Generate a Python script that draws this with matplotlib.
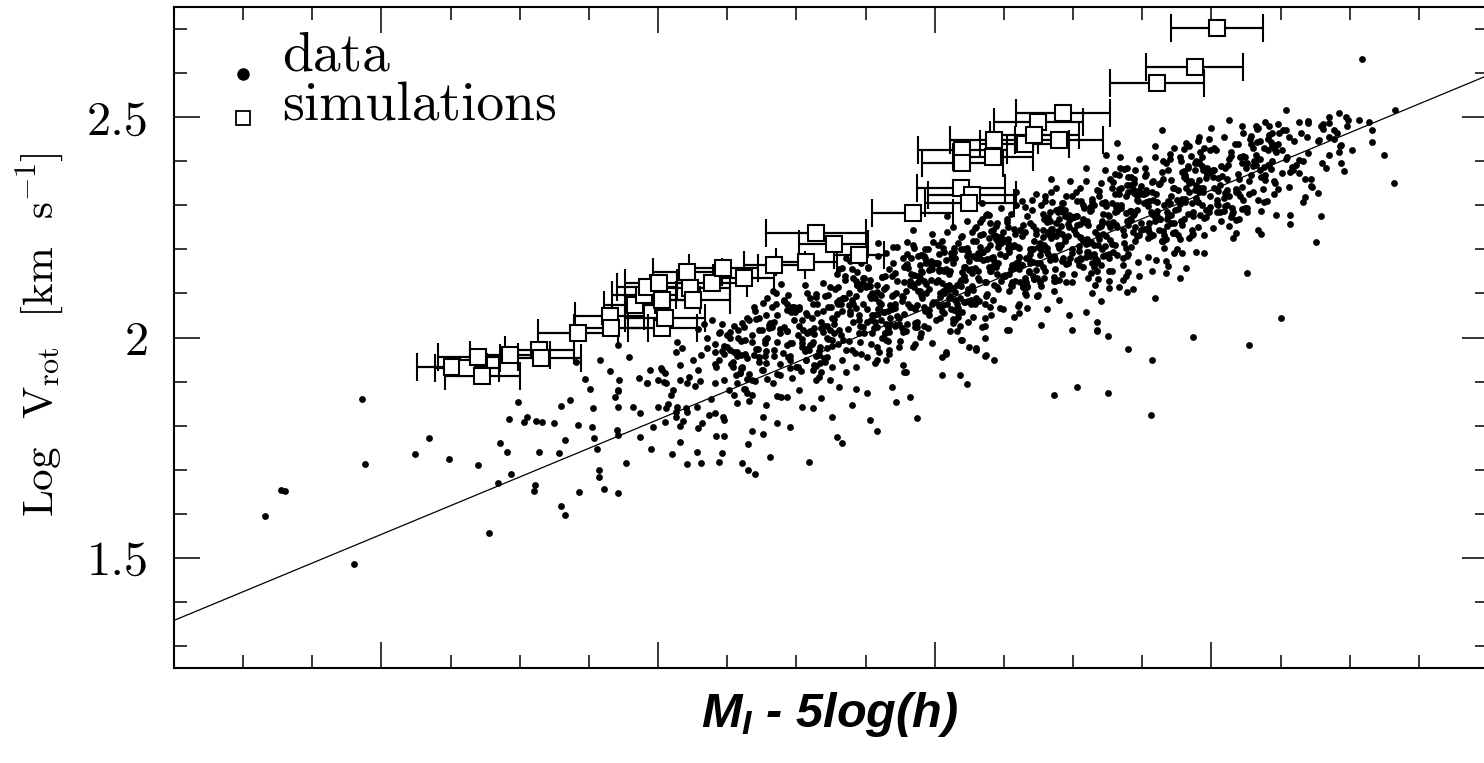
import numpy as np
import matplotlib
matplotlib.use('Agg')
import matplotlib.pyplot as plt
from matplotlib import font_manager
from matplotlib.ticker import MultipleLocator, NullFormatter

names = {f.name for f in font_manager.fontManager.ttflist}
xfont = 'Liberation Sans Narrow' if 'Liberation Sans Narrow' in names else 'Liberation Sans'

plt.rcParams['mathtext.fontset'] = 'custom'
plt.rcParams['mathtext.rm'] = 'cmr10'
plt.rcParams['mathtext.it'] = xfont + ':italic:bold'

# fitted relation, end points
line_mag = [-16.5, -26.0]
line_logv = [1.358, 2.595]

# simulations: magnitude, log Vrot, magnitude error
sim_mag = [-18.51, -18.62, -18.70, -18.73, -18.93, -19.14, -19.15, -19.42, -19.65, -19.66,
           -19.83, -19.90, -19.92, -20.01, -20.03, -20.03, -20.05, -20.21, -20.23, -20.25,
           -20.39, -20.47, -20.62, -20.84, -21.07, -21.14, -21.27, -21.45, -21.84, -22.19,
           -22.27, -22.25, -22.20, -22.20, -22.43, -22.42, -22.65, -22.75, -22.72, -22.90,
           -22.93, -23.61, -23.88, -24.04]
sim_logv = [1.933, 1.931, 1.956, 1.912, 1.960, 1.972, 1.953, 2.010, 2.049, 2.022,
            2.074, 2.097, 2.115, 2.124, 2.085, 2.022, 2.044, 2.149, 2.112, 2.085,
            2.124, 2.158, 2.135, 2.165, 2.172, 2.237, 2.212, 2.188, 2.283, 2.340,
            2.324, 2.306, 2.426, 2.397, 2.449, 2.410, 2.438, 2.490, 2.460, 2.449,
            2.510, 2.578, 2.613, 2.703]
sim_err = [0.25, 0.23, 0.29, 0.27, 0.29, 0.25, 0.29, 0.29, 0.25, 0.27,
           0.22, 0.23, 0.22, 0.25, 0.27, 0.25, 0.29, 0.25, 0.29, 0.27,
           0.25, 0.25, 0.22, 0.22, 0.22, 0.36, 0.25, 0.18, 0.29, 0.32,
           0.32, 0.32, 0.32, 0.29, 0.32, 0.29, 0.32, 0.32, 0.32, 0.32,
           0.34, 0.34, 0.35, 0.33]

# observed galaxies, outer and middle parts of the cloud
data_mag = [
    -17.16, -17.27, -17.30, -17.80, -17.86, -17.88, -18.24, -18.34, -18.49, -18.70,
    -18.78, -18.84, -18.86, -18.91, -18.92, -18.94, -18.99, -19.03, -19.05, -19.12,
    -19.16, -19.11, -19.10, -19.14, -19.25, -19.28, -19.30, -19.33, -19.30, -19.33,
    -19.36, -19.42, -19.43, -19.51, -19.53, -19.52, -19.54, -19.56, -19.57, -19.57,
    -19.61, -19.71, -19.77, -19.69, -19.71, -19.72, -19.71, -19.70, -19.71, -19.82,
    -19.86, -19.87, -19.41, -19.71, -19.92, -19.87, -19.65, -19.58, -19.47, -19.79,
    -19.95, -20.10, -20.16, -20.28, -20.21, -20.31, -20.44, -20.46, -20.61, -20.65,
    -20.70, -20.81, -20.65, -20.68, -20.76, -21.09, -20.42, -20.48, -20.29, -20.32,
    -19.96, -20.05, -20.13, -20.21, -20.28, -20.37, -20.41, -20.48, -20.76, -20.86,
    -20.95, -21.04, -21.12, -21.26, -21.29, -21.33, -21.53, -21.58, -21.40, -21.87,
    -21.69, -21.72, -21.82, -22.05, -22.18, -22.23, -22.86, -23.03, -22.43, -22.36,
    -22.77, -22.99, -22.52, -21.51, -21.43, -21.18, -20.93, -20.89, -21.02, -20.83,
    -20.78, -20.57, -20.64, -20.55, -20.48, -20.41, -20.30, -20.21, -20.16, -20.06,
    -20.00, -19.92, -19.71, -20.00, -20.06, -20.14, -19.94, -20.03, -20.16, -20.13,
    -20.17, -20.35, -20.41, -20.29, -20.57, -20.64, -20.42, -20.61, -20.68, -20.75,
    -20.78, -20.68, -20.63, -20.50, -20.73, -20.84, -20.93, -20.95, -21.00, -21.04,
    -21.07, -21.12, -21.14, -21.24, -21.31, -21.26, -21.22, -21.17, -21.26, -21.31,
    -21.24, -21.14, -21.15, -21.07, -21.02, -20.93, -20.86, -20.78, -20.76, -20.61,
    -21.33, -21.40, -21.43, -21.51, -21.58, -21.65, -21.77, -21.79, -21.58, -21.67,
    -21.74, -21.84, -21.89, -21.98, -22.05, -22.08, -22.20, -22.25, -22.30, -22.37,
    -22.13, -22.34, -22.41, -22.61, -22.97, -23.09, -23.17, -23.14, -22.90, -22.36,
    -24.26, -24.50, -24.27, -23.87, -23.57, -23.56, -23.25, -23.40, -23.25, -23.17,
    -23.17, -22.81, -23.20, -23.59, -23.39, -23.43, -23.33, -23.26, -23.26, -23.26,
    -23.38, -23.40, -23.48, -23.67, -23.77, -23.82, -23.69, -23.95, -23.89, -23.79,
    -23.73, -23.54, -23.39, -22.54, -22.30, -22.08, -22.19, -21.78, -23.32, -23.24,
    -25.09, -24.54, -24.92, -25.33, -24.85, -24.70, -24.99, -25.07, -25.14, -25.16,
    -25.16, -25.25, -25.32, -24.76, -24.94, -25.02, -24.92, -24.80, -24.73, -24.68,
    -24.79, -24.57, -24.56, -24.34, -24.18, -24.34, -24.39, -24.51, -24.58, -24.63,
    -24.70, -24.78, -24.85, -24.56, -24.49, -24.42, -24.32, -24.22, -24.13, -24.00,
    -23.91, -23.82, -23.64,
    -20.41, -20.45, -20.48, -20.52, -20.55, -20.44, -20.50, -20.57, -20.46, -20.53,
    -20.60, -20.63, -20.68, -20.71, -20.59, -20.66, -20.73, -20.62, -20.70, -20.58,
    -20.77, -20.80, -20.84, -20.88, -20.91, -20.95, -20.98, -20.79, -20.86, -20.93,
    -20.82, -20.90, -20.97, -20.85, -20.78, -20.99, -20.88, -20.94,
    -21.01, -21.04, -21.07, -21.10, -21.13, -21.16, -21.19, -21.22, -21.24, -21.03,
    -21.06, -21.09, -21.12, -21.15, -21.18, -21.21, -21.08, -21.14, -21.20, -21.23,
    -21.26, -21.28, -21.30, -21.33, -21.35, -21.37, -21.40, -21.42, -21.45, -21.47,
    -21.49, -21.27, -21.31, -21.34, -21.38, -21.41, -21.44, -21.46, -21.48, -21.29,
    -21.32, -21.36, -21.39, -21.43, -21.46, -21.48,
    -21.51, -21.53, -21.55, -21.57, -21.59, -21.61, -21.63, -21.65, -21.67, -21.69,
    -21.71, -21.73, -21.52, -21.56, -21.60, -21.64, -21.68, -21.72, -21.54, -21.58,
    -21.62, -21.66, -21.70, -21.74, -21.53, -21.59, -21.65, -21.71, -21.57, -21.69,
    -21.76, -21.78, -21.80, -21.82, -21.84, -21.86, -21.88, -21.90, -21.92, -21.94,
    -21.96, -21.98, -21.77, -21.81, -21.85, -21.89, -21.93, -21.97, -21.79, -21.83,
    -21.87, -21.91, -21.95, -21.99, -21.78, -21.84, -21.90, -21.96, -21.82, -21.94,
    -21.86, -21.92, -21.80, -21.98, -21.88,
    -22.01, -22.03, -22.05, -22.07, -22.09, -22.11, -22.13, -22.15, -22.17, -22.19,
    -22.21, -22.23, -22.02, -22.06, -22.10, -22.14, -22.18, -22.22, -22.04, -22.08,
    -22.12, -22.16, -22.20, -22.24, -22.03, -22.09, -22.15, -22.21, -22.07, -22.19,
    -22.11, -22.17, -22.05, -22.23, -22.13, -22.01, -22.24,
    -22.26, -22.28, -22.30, -22.32, -22.34, -22.36, -22.38, -22.40, -22.42, -22.44,
    -22.46, -22.48, -22.27, -22.31, -22.35, -22.39, -22.43, -22.47, -22.29, -22.33,
    -22.37, -22.41, -22.45, -22.49, -22.28, -22.34, -22.40, -22.46, -22.32, -22.44,
    -22.36, -22.42, -22.30, -22.48, -22.38, -22.26, -22.49,
    -22.51, -22.53, -22.55, -22.57, -22.59, -22.61, -22.63, -22.65, -22.67, -22.69,
    -22.71, -22.73, -22.52, -22.56, -22.60, -22.64, -22.68, -22.72, -22.54, -22.58,
    -22.62, -22.66, -22.70, -22.74, -22.53, -22.59, -22.65, -22.71, -22.57, -22.69,
    -22.61, -22.67, -22.55, -22.73, -22.63, -22.51, -22.74,
    -22.76, -22.78, -22.80, -22.82, -22.84, -22.86, -22.88, -22.90, -22.92, -22.94,
    -22.96, -22.98, -22.77, -22.81, -22.85, -22.89, -22.93, -22.97, -22.79, -22.83,
    -22.87, -22.91, -22.95, -22.99, -22.78, -22.84, -22.90, -22.96, -22.82, -22.94,
    -22.86, -22.92, -22.80, -22.98, -22.88, -22.76, -22.99,
    -23.01, -23.03, -23.05, -23.07, -23.09, -23.11, -23.13, -23.15, -23.17, -23.19,
    -23.21, -23.23, -23.02, -23.06, -23.10, -23.14, -23.18, -23.22, -23.04, -23.08,
    -23.12, -23.16, -23.20, -23.24, -23.03, -23.09, -23.15, -23.21, -23.07, -23.19,
    -23.11, -23.17, -23.05, -23.23,
    -23.26, -23.28, -23.30, -23.32, -23.34, -23.36, -23.38, -23.40, -23.42, -23.44,
    -23.46, -23.48, -23.27, -23.31, -23.35, -23.39, -23.43, -23.47, -23.29, -23.33,
    -23.37, -23.41, -23.45, -23.49, -23.28, -23.34, -23.40, -23.46, -23.32, -23.44,
    -23.36, -23.42, -23.30,
    -23.51, -23.53, -23.55, -23.57, -23.59, -23.61, -23.63, -23.65, -23.67, -23.69,
    -23.71, -23.73, -23.52, -23.56, -23.60, -23.64, -23.68, -23.72, -23.54, -23.58,
    -23.62, -23.66, -23.70, -23.74, -23.53, -23.59, -23.65, -23.71, -23.57, -23.69,
    -23.76, -23.78, -23.80, -23.82, -23.84, -23.86, -23.88, -23.90, -23.92, -23.94,
    -23.96, -23.98, -23.77, -23.81, -23.85, -23.89, -23.93, -23.97, -23.79, -23.83,
    -23.87, -23.91, -23.95, -23.99, -23.80, -23.90, -23.84,
    -24.01, -24.03, -24.05, -24.07, -24.09, -24.11, -24.13, -24.15, -24.17, -24.19,
    -24.21, -24.23, -24.02, -24.06, -24.10, -24.14, -24.18, -24.22, -24.04, -24.24,
    -24.26, -24.28, -24.30, -24.32, -24.34, -24.36, -24.38, -24.40, -24.42, -24.44,
    -24.46, -24.48, -24.29, -24.35, -24.41, -24.47,
    -24.51, -24.54, -24.57, -24.60, -24.63, -24.66, -24.69, -24.72, -24.55, -24.65,
    -24.77, -24.81, -24.85, -24.89, -24.93, -24.97,
]
data_logv = [
    1.594, 1.653, 1.651, 1.485, 1.860, 1.712, 1.735, 1.772, 1.724, 1.710,
    1.556, 1.669, 1.760, 1.740, 1.815, 1.690, 1.853, 1.808, 1.819, 1.810,
    1.808, 1.665, 1.651, 1.740, 1.806, 1.738, 1.844, 1.767, 1.617, 1.597,
    1.858, 1.801, 1.649, 1.883, 1.840, 1.797, 1.772, 1.747, 1.699, 1.683,
    1.656, 1.647, 1.715, 1.865, 1.878, 1.903, 1.842, 1.790, 1.778, 1.842,
    1.908, 1.774, 1.944, 1.983, 1.897, 1.829, 1.925, 1.950, 1.905, 1.955,
    1.747, 1.735, 1.763, 1.740, 1.712, 1.715, 1.717, 1.738, 1.715, 1.699,
    1.690, 1.728, 1.758, 1.788, 1.781, 1.717, 1.776, 1.776, 1.794, 1.806,
    1.797, 1.808, 1.819, 1.831, 1.842, 1.824, 1.828, 1.812, 1.819, 1.806,
    1.797, 1.842, 1.840, 1.819, 1.774, 1.760, 1.812, 1.787, 1.847, 1.817,
    1.888, 1.853, 1.865, 1.915, 1.915, 1.894, 1.869, 1.888, 1.949, 1.958,
    2.028, 2.017, 2.017, 1.874, 1.883, 1.862, 1.865, 1.865, 1.881, 1.897,
    1.847, 1.851, 1.874, 1.869, 1.903, 1.897, 1.901, 1.897, 1.903, 1.897,
    1.903, 1.897, 1.881, 1.842, 1.840, 1.842, 1.926, 1.926, 1.938, 1.967,
    1.976, 1.976, 1.967, 1.926, 1.967, 1.953, 1.933, 1.931, 1.903, 1.926,
    1.942, 1.990, 1.994, 2.006, 2.017, 1.972, 1.983, 1.949, 1.933, 1.978,
    1.949, 1.926, 1.903, 1.903, 1.888, 1.933, 1.956, 1.978, 1.994, 2.017,
    2.017, 2.092, 2.056, 2.056, 2.069, 2.062, 2.051, 2.051, 2.078, 2.033,
    1.949, 1.972, 1.933, 1.956, 1.949, 1.949, 1.938, 1.922, 1.978, 1.972,
    1.978, 1.978, 2.001, 1.987, 1.956, 1.967, 1.994, 1.978, 1.972, 1.960,
    2.033, 2.024, 2.051, 2.056, 2.051, 2.058, 2.017, 2.101, 2.085, 1.999,
    2.146, 2.044, 1.983, 2.001, 1.949, 1.824, 1.874, 1.974, 2.003, 2.015,
    2.035, 2.065, 2.083, 2.090, 2.103, 2.110, 2.115, 2.112, 2.128, 2.151,
    2.140, 2.149, 2.140, 2.146, 2.135, 2.158, 2.162, 2.192, 2.195, 2.192,
    2.192, 2.183, 2.185, 2.017, 1.976, 1.962, 1.994, 1.922, 2.442, 2.415,
    2.631, 2.517, 2.510, 2.517, 2.501, 2.487, 2.494, 2.494, 2.490, 2.472,
    2.444, 2.415, 2.351, 2.217, 2.396, 2.426, 2.422, 2.396, 2.342, 2.319,
    2.276, 2.278, 2.342, 2.244, 2.267, 2.312, 2.358, 2.374, 2.387, 2.403,
    2.419, 2.449, 2.456, 2.456, 2.465, 2.479, 2.479, 2.479, 2.494, 2.476,
    2.456, 2.442, 2.472,
    1.985, 2.012, 1.962, 1.998, 2.025, 1.948, 1.978, 1.958, 2.030, 1.940,
    1.992, 1.962, 2.005, 1.975, 1.920, 2.040, 1.955, 1.882, 2.060, 2.018,
    1.995, 2.028, 1.958, 2.010, 2.085, 1.930, 2.040, 1.905, 1.990, 2.015,
    2.070, 1.965, 1.988, 2.100, 1.970, 2.058, 1.915, 1.955,
    2.005, 2.040, 1.975, 2.090, 2.022, 1.960, 2.060, 2.000, 2.115, 1.925,
    2.120, 2.012, 1.990, 2.075, 2.035, 1.945, 2.100, 1.935, 2.025, 2.070,
    2.045, 2.110, 1.985, 2.060, 2.140, 2.020, 2.085, 1.965, 2.050, 2.170,
    2.010, 2.030, 2.155, 1.995, 2.100, 2.035, 2.120, 1.990, 2.075, 2.080,
    2.005, 2.180, 2.060, 2.095, 2.025, 2.135,
    2.065, 2.130, 2.010, 2.090, 2.185, 2.040, 2.110, 1.995, 2.155, 2.070,
    2.025, 2.205, 2.160, 2.050, 2.080, 2.140, 2.030, 2.100, 1.985, 2.120,
    2.000, 2.060, 2.170, 2.045, 2.095, 2.215, 2.115, 2.075, 2.035, 2.140,
    2.095, 2.160, 2.030, 2.120, 2.210, 2.065, 2.140, 2.010, 2.185, 2.100,
    2.050, 2.235, 2.180, 2.075, 2.115, 2.165, 2.060, 2.130, 2.015, 2.145,
    2.035, 2.090, 2.200, 2.080, 2.125, 2.245, 2.150, 2.110, 2.070, 2.170,
    1.985, 2.025, 2.190, 2.155, 2.105,
    2.125, 2.190, 2.060, 2.150, 2.240, 2.095, 2.170, 2.040, 2.215, 2.130,
    2.080, 2.265, 2.210, 2.105, 2.145, 2.195, 2.090, 2.160, 2.045, 2.175,
    2.065, 2.120, 2.230, 2.110, 2.155, 2.275, 2.180, 2.140, 2.100, 2.200,
    2.015, 2.055, 2.220, 2.185, 2.250, 2.080, 2.035,
    2.155, 2.220, 2.090, 2.180, 2.270, 2.125, 2.200, 2.070, 2.245, 2.160,
    2.110, 2.295, 2.240, 2.135, 2.175, 2.225, 2.120, 2.190, 2.075, 2.205,
    2.095, 2.150, 2.260, 2.140, 2.185, 2.305, 2.210, 2.170, 2.130, 2.230,
    2.045, 2.085, 2.250, 2.215, 2.280, 2.110, 2.065,
    2.185, 2.250, 2.120, 2.210, 2.300, 2.155, 2.230, 2.100, 2.275, 2.190,
    2.140, 2.325, 2.270, 2.165, 2.205, 2.255, 2.150, 2.220, 2.105, 2.235,
    2.125, 2.180, 2.290, 2.170, 2.215, 2.330, 2.240, 2.200, 2.160, 2.260,
    2.075, 2.115, 2.280, 2.245, 2.310, 2.140, 2.095,
    2.215, 2.280, 2.150, 2.240, 2.330, 2.185, 2.260, 2.130, 2.305, 2.220,
    2.170, 2.355, 2.300, 2.195, 2.235, 2.285, 2.180, 2.250, 2.135, 2.265,
    2.155, 2.210, 2.320, 2.200, 2.245, 2.360, 2.270, 2.230, 2.190, 2.290,
    2.105, 2.145, 2.310, 2.275, 2.340, 2.170, 2.125,
    2.245, 2.310, 2.180, 2.270, 2.355, 2.215, 2.290, 2.160, 2.335, 2.250,
    2.200, 2.380, 2.330, 2.225, 2.265, 2.315, 2.210, 2.280, 2.165, 2.295,
    2.185, 2.240, 2.350, 2.230, 2.275, 2.385, 2.300, 2.260, 2.220, 2.320,
    2.135, 2.175, 2.340, 2.305,
    2.275, 2.340, 2.210, 2.300, 2.385, 2.245, 2.320, 2.190, 2.365, 2.280,
    2.230, 2.405, 2.360, 2.255, 2.295, 2.345, 2.240, 2.310, 2.195, 2.325,
    2.215, 2.270, 2.380, 2.260, 2.305, 2.410, 2.330, 2.290, 2.250, 2.350,
    2.165, 2.205, 2.370,
    2.305, 2.370, 2.240, 2.330, 2.410, 2.275, 2.350, 2.220, 2.395, 2.310,
    2.260, 2.430, 2.385, 2.285, 2.325, 2.375, 2.270, 2.340, 2.225, 2.355,
    2.245, 2.300, 2.405, 2.290, 2.335, 2.435, 2.360, 2.320, 2.280, 2.380,
    2.335, 2.400, 2.270, 2.360, 2.435, 2.305, 2.380, 2.250, 2.420, 2.340,
    2.290, 2.450, 2.410, 2.315, 2.355, 2.400, 2.300, 2.370, 2.255, 2.385,
    2.275, 2.330, 2.430, 2.320, 2.365, 2.445, 2.225,
    2.365, 2.425, 2.300, 2.390, 2.455, 2.335, 2.405, 2.280, 2.440, 2.370,
    2.320, 2.465, 2.430, 2.345, 2.385, 2.420, 2.330, 2.395, 2.285, 2.410,
    2.395, 2.450, 2.330, 2.415, 2.475, 2.365, 2.430, 2.310, 2.460, 2.400,
    2.350, 2.485, 2.440, 2.380, 2.425, 2.420,
    2.425, 2.470, 2.375, 2.445, 2.490, 2.400, 2.455, 2.360, 2.410, 2.465,
    2.445, 2.485, 2.415, 2.470, 2.435, 2.500,
]

# observed galaxies, the crowded core of the cloud
core_mag = [
    -20.07, -20.31, -20.18, -20.44, -20.02, -20.27, -20.39, -20.13, -20.48, -20.22,
    -20.35, -20.09, -20.41, -20.16, -20.29, -20.04, -20.46, -20.20, -20.33, -20.11,
    -20.25, -20.38, -20.14, -20.47, -20.05,
    -20.57, -20.81, -20.68, -20.94, -20.52, -20.77, -20.89, -20.63, -20.98, -20.72,
    -20.85, -20.59, -20.91, -20.66, -20.79, -20.54, -20.96, -20.70, -20.83, -20.61,
    -20.75, -20.88, -20.64, -20.97, -20.55, -20.86, -20.73, -20.60, -20.93, -20.69,
    -20.51, -20.80, -20.95, -20.62, -20.76,
    -21.07, -21.31, -21.18, -21.44, -21.02, -21.27, -21.39, -21.13, -21.48, -21.22,
    -21.35, -21.09, -21.41, -21.16, -21.29, -21.04, -21.46, -21.20, -21.33, -21.11,
    -21.25, -21.38, -21.14, -21.47, -21.05, -21.36, -21.23, -21.10, -21.43, -21.19,
    -21.01, -21.30, -21.45, -21.12, -21.26, -21.40, -21.08, -21.34, -21.17, -21.49,
    -21.57, -21.81, -21.68, -21.94, -21.52, -21.77, -21.89, -21.63, -21.98, -21.72,
    -21.85, -21.59, -21.91, -21.66, -21.79, -21.54, -21.96, -21.70, -21.83, -21.61,
    -21.75, -21.88, -21.64, -21.97, -21.55, -21.86, -21.73, -21.60, -21.93, -21.69,
    -21.51, -21.80, -21.95, -21.62, -21.76, -21.90, -21.58, -21.84, -21.67, -21.99,
    -21.71, -21.53, -21.87, -21.65, -21.92,
    -22.07, -22.31, -22.18, -22.44, -22.02, -22.27, -22.39, -22.13, -22.48, -22.22,
    -22.35, -22.09, -22.41, -22.16, -22.29, -22.04, -22.46, -22.20, -22.33, -22.11,
    -22.25, -22.38, -22.14, -22.47, -22.05, -22.36, -22.23, -22.10, -22.43, -22.19,
    -22.01, -22.30, -22.45, -22.12, -22.26, -22.40, -22.08, -22.34, -22.17, -22.49,
    -22.21, -22.03, -22.37, -22.15, -22.42, -22.28, -22.06, -22.32, -22.24, -22.11,
    -22.57, -22.81, -22.68, -22.94, -22.52, -22.77, -22.89, -22.63, -22.98, -22.72,
    -22.85, -22.59, -22.91, -22.66, -22.79, -22.54, -22.96, -22.70, -22.83, -22.61,
    -22.75, -22.88, -22.64, -22.97, -22.55, -22.86, -22.73, -22.60, -22.93, -22.69,
    -22.51, -22.80, -22.95, -22.62, -22.76, -22.90, -22.58, -22.84, -22.67, -22.99,
    -22.71, -22.53, -22.87, -22.65, -22.92, -22.78, -22.56, -22.82, -22.74, -22.61,
    -23.07, -23.31, -23.18, -23.44, -23.02, -23.27, -23.39, -23.13, -23.48, -23.22,
    -23.35, -23.09, -23.41, -23.16, -23.29, -23.04, -23.46, -23.20, -23.33, -23.11,
    -23.25, -23.38, -23.14, -23.47, -23.05, -23.36, -23.23, -23.10, -23.43, -23.19,
    -23.01, -23.30, -23.45, -23.12, -23.26, -23.40, -23.08, -23.34, -23.17, -23.49,
    -23.21, -23.03, -23.37, -23.15, -23.42, -23.28, -23.06, -23.32, -23.24, -23.11,
    -23.57, -23.81, -23.68, -23.94, -23.52, -23.77, -23.89, -23.63, -23.98, -23.72,
    -23.85, -23.59, -23.91, -23.66, -23.79, -23.54, -23.96, -23.70, -23.83, -23.61,
    -23.75, -23.88, -23.64, -23.97, -23.55, -23.86, -23.73, -23.60, -23.93, -23.69,
    -23.51, -23.80, -23.95, -23.62, -23.76, -23.90, -23.58, -23.84, -23.67, -23.99,
    -23.71, -23.53, -23.87, -23.65, -23.92,
    -24.07, -24.31, -24.18, -24.44, -24.02, -24.27, -24.39, -24.13, -24.48, -24.22,
    -24.35, -24.09, -24.41, -24.16, -24.29, -24.04, -24.46, -24.20, -24.33, -24.11,
    -24.25, -24.38, -24.14, -24.47, -24.05, -24.36, -24.23, -24.10, -24.43, -24.19,
    -24.01, -24.30, -24.45, -24.12, -24.26,
    -24.57, -24.81, -24.68, -24.94, -24.52, -24.77, -24.89, -24.63, -24.98, -24.72,
    -24.85, -24.59, -24.91, -24.66, -24.79, -24.54, -24.96, -24.70, -24.83, -24.61,
]
core_logv = [
    1.850, 1.960, 1.810, 2.010, 1.930, 1.890, 2.040, 1.830, 1.980, 1.910,
    2.000, 1.870, 1.940, 1.800, 2.020, 1.900, 1.970, 1.840, 2.030, 1.880,
    1.950, 1.860, 1.990, 1.820, 1.920,
    1.897, 2.033, 1.869, 2.096, 1.972, 1.958, 2.121, 1.884, 2.070, 1.973,
    2.077, 1.919, 2.023, 1.857, 2.090, 1.944, 2.058, 1.901, 2.105, 1.932,
    2.016, 1.940, 2.045, 1.909, 1.966, 1.868, 2.044, 1.930, 2.015, 2.070,
    1.881, 2.021, 1.987, 2.023, 1.927,
    1.950, 2.086, 1.922, 2.149, 2.025, 2.011, 2.174, 1.937, 2.123, 2.026,
    2.130, 1.972, 2.076, 1.910, 2.143, 1.997, 2.111, 1.954, 2.158, 1.985,
    2.069, 1.993, 2.098, 1.962, 2.018, 1.921, 2.097, 1.984, 2.068, 2.123,
    1.934, 2.075, 2.040, 2.076, 1.980, 2.155, 2.011, 2.089, 1.941, 2.134,
    1.942, 2.158, 2.044, 2.121, 2.157, 2.013, 2.136, 2.059, 2.165, 2.028,
    2.202, 2.064, 2.148, 1.992, 2.165, 2.089, 2.063, 2.206, 2.070, 2.077,
    1.991, 2.185, 2.010, 2.164, 2.050, 2.033, 2.129, 1.966, 2.200, 2.095,
    2.036, 2.217, 2.022, 2.138, 2.082, 2.187, 2.023, 2.121, 1.963, 2.216,
    2.067, 2.118, 2.024, 2.191, 2.069,
    2.055, 2.191, 2.027, 2.254, 2.130, 2.116, 2.279, 2.042, 2.228, 2.131,
    2.235, 2.077, 2.181, 2.015, 2.248, 2.102, 2.216, 2.059, 2.263, 2.090,
    2.174, 2.098, 2.203, 2.067, 2.123, 2.026, 2.202, 2.089, 2.173, 2.228,
    2.039, 2.180, 2.145, 2.181, 2.085, 2.260, 2.116, 2.194, 2.046, 2.239,
    2.160, 2.071, 2.277, 2.104, 2.162, 2.047, 2.204, 2.082, 2.193, 2.110,
    2.047, 2.263, 2.149, 2.226, 2.262, 2.118, 2.241, 2.164, 2.270, 2.133,
    2.307, 2.169, 2.253, 2.097, 2.270, 2.194, 2.168, 2.311, 2.175, 2.182,
    2.096, 2.290, 2.115, 2.269, 2.155, 2.138, 2.234, 2.071, 2.305, 2.200,
    2.141, 2.322, 2.127, 2.243, 2.187, 2.292, 2.128, 2.226, 2.068, 2.321,
    2.172, 2.223, 2.129, 2.296, 2.174, 2.229, 2.116, 2.274, 2.095, 2.182,
    2.160, 2.296, 2.132, 2.359, 2.235, 2.221, 2.384, 2.147, 2.333, 2.236,
    2.340, 2.182, 2.286, 2.120, 2.353, 2.207, 2.321, 2.164, 2.368, 2.195,
    2.279, 2.203, 2.308, 2.172, 2.228, 2.131, 2.307, 2.194, 2.278, 2.333,
    2.144, 2.285, 2.250, 2.286, 2.190, 2.365, 2.221, 2.299, 2.151, 2.344,
    2.265, 2.176, 2.382, 2.209, 2.267, 2.152, 2.309, 2.187, 2.298, 2.215,
    2.152, 2.368, 2.254, 2.331, 2.367, 2.223, 2.346, 2.269, 2.375, 2.238,
    2.412, 2.274, 2.358, 2.202, 2.375, 2.299, 2.273, 2.416, 2.280, 2.287,
    2.201, 2.395, 2.220, 2.374, 2.260, 2.243, 2.339, 2.176, 2.410, 2.305,
    2.246, 2.427, 2.232, 2.348, 2.292, 2.397, 2.233, 2.331, 2.173, 2.426,
    2.277, 2.328, 2.234, 2.401, 2.279,
    2.265, 2.401, 2.237, 2.464, 2.340, 2.326, 2.489, 2.252, 2.438, 2.341,
    2.445, 2.287, 2.391, 2.225, 2.458, 2.312, 2.426, 2.269, 2.473, 2.300,
    2.384, 2.308, 2.413, 2.277, 2.333, 2.236, 2.412, 2.299, 2.383, 2.438,
    2.249, 2.390, 2.355, 2.391, 2.295,
    2.257, 2.473, 2.359, 2.436, 2.472, 2.328, 2.451, 2.374, 2.480, 2.343,
    2.487, 2.379, 2.463, 2.307, 2.480, 2.404, 2.378, 2.491, 2.385, 2.392,
]

# observed galaxies, the darkest ridge along the middle of the cloud
ridge_mag = [
    -20.82, -20.56, -20.93, -20.69, -20.77, -20.52, -20.64, -20.88, -20.73, -20.97,
    -20.60, -20.84, -20.66, -20.91, -20.54, -20.79, -20.71, -20.95, -20.58, -20.86,
    -21.32, -21.06, -21.43, -21.19, -21.27, -21.02, -21.14, -21.38, -21.23, -21.47,
    -21.10, -21.34, -21.16, -21.41, -21.04, -21.29, -21.21, -21.45, -21.08, -21.36,
    -21.00, -21.13, -21.39, -21.22, -21.30, -21.11, -21.48, -21.35, -21.18, -21.44,
    -21.82, -21.56, -21.93, -21.69, -21.77, -21.52, -21.64, -21.88, -21.73, -21.97,
    -21.60, -21.84, -21.66, -21.91, -21.54, -21.79, -21.71, -21.95, -21.58, -21.86,
    -21.50, -21.63, -21.89, -21.72, -21.80, -21.61, -21.98, -21.85, -21.68, -21.94,
    -21.76, -21.55, -21.70, -21.87, -21.51, -21.65, -21.83, -21.59, -21.92, -21.74,
    -21.96, -21.78, -21.62, -21.90, -21.67,
    -22.32, -22.06, -22.43, -22.19, -22.27, -22.02, -22.14, -22.38, -22.23, -22.47,
    -22.10, -22.34, -22.16, -22.41, -22.04, -22.29, -22.21, -22.45, -22.08, -22.36,
    -22.00, -22.13, -22.39, -22.22, -22.30, -22.11, -22.48, -22.35, -22.18, -22.44,
    -22.26, -22.05, -22.20, -22.37, -22.01, -22.15, -22.33, -22.09, -22.42, -22.24,
    -22.46, -22.28, -22.12, -22.40, -22.17, -22.03, -22.31, -22.07, -22.49, -22.25,
    -22.82, -22.56, -22.93, -22.69, -22.77, -22.52, -22.64, -22.88, -22.73, -22.97,
    -22.60, -22.84, -22.66, -22.91, -22.54, -22.79, -22.71, -22.95, -22.58, -22.86,
    -22.50, -22.63, -22.89, -22.72, -22.80, -22.61, -22.98, -22.85, -22.68, -22.94,
    -22.76, -22.55, -22.70, -22.87, -22.51, -22.65, -22.83, -22.59, -22.92, -22.74,
    -22.96, -22.78, -22.62, -22.90, -22.67, -22.53, -22.81, -22.57, -22.99, -22.75,
    -23.32, -23.06, -23.43, -23.19, -23.27, -23.02, -23.14, -23.38, -23.23, -23.47,
    -23.10, -23.34, -23.16, -23.41, -23.04, -23.29, -23.21, -23.45, -23.08, -23.36,
    -23.00, -23.13, -23.39, -23.22, -23.30, -23.11, -23.48, -23.35, -23.18, -23.44,
    -23.26, -23.05, -23.20, -23.37, -23.01, -23.15, -23.33, -23.09, -23.42, -23.24,
    -23.46, -23.28, -23.12, -23.40, -23.17, -23.03, -23.31, -23.07, -23.49, -23.25,
    -23.82, -23.56, -23.93, -23.69, -23.77, -23.52, -23.64, -23.88, -23.73, -23.97,
    -23.60, -23.84, -23.66, -23.91, -23.54, -23.79, -23.71, -23.95, -23.58, -23.86,
    -23.50, -23.63, -23.89, -23.72, -23.80, -23.61, -23.98, -23.85, -23.68, -23.94,
    -23.76, -23.55, -23.70, -23.87, -23.51, -23.65, -23.83, -23.59, -23.92, -23.74,
    -23.96, -23.78, -23.62, -23.90, -23.67, -23.53, -23.81, -23.57, -23.99, -23.75,
    -24.32, -24.06, -24.43, -24.19, -24.27, -24.02, -24.14, -24.38, -24.23, -24.47,
    -24.10, -24.34, -24.16, -24.41, -24.04, -24.29, -24.21, -24.45, -24.08, -24.36,
    -24.00, -24.13, -24.39, -24.22, -24.30, -24.11, -24.48, -24.35, -24.18, -24.44,
    -24.26, -24.05, -24.20, -24.37, -24.01, -24.15, -24.33, -24.09, -24.42, -24.24,
]
ridge_logv = [
    2.024, 1.916, 2.075, 1.960, 1.988, 2.012, 1.905, 2.020, 1.944, 2.069,
    1.961, 2.036, 1.917, 2.083, 1.934, 2.000, 2.042, 1.957, 1.998, 1.918,
    2.077, 1.969, 2.128, 2.013, 2.041, 2.065, 1.958, 2.073, 1.997, 2.122,
    2.014, 2.089, 1.970, 2.136, 1.987, 2.053, 2.095, 2.010, 2.051, 1.971,
    2.063, 2.007, 2.054, 1.976, 2.115, 2.045, 2.023, 2.090, 2.022, 2.119,
    2.129, 2.021, 2.180, 2.065, 2.093, 2.117, 2.010, 2.125, 2.049, 2.174,
    2.066, 2.141, 2.022, 2.188, 2.039, 2.105, 2.147, 2.062, 2.103, 2.023,
    2.115, 2.059, 2.106, 2.028, 2.167, 2.097, 2.075, 2.142, 2.074, 2.171,
    2.022, 2.100, 2.096, 2.074, 2.116, 2.031, 2.180, 2.054, 2.129, 2.030,
    2.153, 2.054, 2.138, 2.097, 2.013,
    2.182, 2.074, 2.233, 2.118, 2.146, 2.170, 2.063, 2.178, 2.102, 2.227,
    2.119, 2.194, 2.075, 2.241, 2.092, 2.158, 2.200, 2.115, 2.156, 2.076,
    2.168, 2.112, 2.159, 2.081, 2.220, 2.150, 2.128, 2.195, 2.127, 2.224,
    2.075, 2.153, 2.149, 2.127, 2.169, 2.084, 2.233, 2.107, 2.182, 2.083,
    2.206, 2.107, 2.191, 2.150, 2.066, 2.151, 2.151, 2.195, 2.139, 2.154,
    2.234, 2.126, 2.285, 2.170, 2.198, 2.222, 2.115, 2.230, 2.154, 2.279,
    2.171, 2.246, 2.127, 2.293, 2.144, 2.210, 2.252, 2.167, 2.208, 2.128,
    2.220, 2.164, 2.211, 2.133, 2.272, 2.202, 2.180, 2.247, 2.179, 2.276,
    2.127, 2.205, 2.201, 2.179, 2.221, 2.136, 2.285, 2.159, 2.234, 2.135,
    2.258, 2.159, 2.243, 2.202, 2.118, 2.203, 2.203, 2.247, 2.191, 2.206,
    2.287, 2.179, 2.338, 2.223, 2.251, 2.275, 2.168, 2.283, 2.207, 2.332,
    2.224, 2.299, 2.180, 2.346, 2.197, 2.263, 2.305, 2.220, 2.261, 2.181,
    2.273, 2.217, 2.264, 2.186, 2.325, 2.255, 2.233, 2.300, 2.232, 2.329,
    2.180, 2.258, 2.254, 2.232, 2.274, 2.189, 2.338, 2.212, 2.287, 2.188,
    2.311, 2.212, 2.296, 2.255, 2.171, 2.256, 2.256, 2.300, 2.244, 2.259,
    2.339, 2.231, 2.390, 2.275, 2.303, 2.327, 2.220, 2.335, 2.259, 2.384,
    2.276, 2.351, 2.232, 2.398, 2.249, 2.315, 2.357, 2.272, 2.313, 2.233,
    2.325, 2.269, 2.316, 2.238, 2.377, 2.307, 2.285, 2.352, 2.284, 2.381,
    2.232, 2.310, 2.306, 2.284, 2.326, 2.241, 2.390, 2.264, 2.339, 2.240,
    2.363, 2.264, 2.348, 2.307, 2.223, 2.308, 2.308, 2.352, 2.296, 2.311,
    2.392, 2.284, 2.443, 2.328, 2.356, 2.380, 2.273, 2.388, 2.312, 2.437,
    2.329, 2.404, 2.285, 2.451, 2.302, 2.368, 2.410, 2.325, 2.366, 2.286,
    2.378, 2.322, 2.369, 2.291, 2.430, 2.360, 2.338, 2.405, 2.337, 2.434,
    2.285, 2.363, 2.359, 2.337, 2.379, 2.294, 2.443, 2.317, 2.392, 2.293,
]
assert len(data_mag) == len(data_logv)
assert len(core_mag) == len(core_logv)
assert len(ridge_mag) == len(ridge_logv)

fig = plt.figure(figsize=(14.84, 7.63), dpi=100)
ax = fig.add_axes([174 / 1484, 95 / 763, 1314 / 1484, 661 / 763])

ax.plot(line_mag, line_logv, color='black', lw=0.9, zorder=2)
ax.plot(data_mag + core_mag + ridge_mag, data_logv + core_logv + ridge_logv,
        'o', color='black', ms=4.9, mew=0, zorder=3)
ax.errorbar(sim_mag, sim_logv, xerr=sim_err, fmt='s', mfc='white', mec='black',
            ms=12, mew=1.5, ecolor='black', elinewidth=1.6, capsize=10,
            capthick=1.6, zorder=4)

ax.set_xlim(-16.5, -26.0)
ax.set_ylim(1.25, 2.75)

ax.xaxis.set_major_locator(MultipleLocator(2))
ax.xaxis.set_minor_locator(MultipleLocator(0.5))
ax.yaxis.set_major_locator(MultipleLocator(0.5))
ax.yaxis.set_minor_locator(MultipleLocator(0.1))
ax.xaxis.set_major_formatter(NullFormatter())
ax.tick_params(which='both', direction='in', top=True, right=True, width=1.1,
               color='black')
ax.tick_params(which='major', length=19)
ax.tick_params(which='minor', length=9.5)
ax.tick_params(axis='y', which='major', pad=18)
ax.set_yticks([1.5, 2.0, 2.5])
ax.set_yticklabels(['1.5', '2', '2.5'], fontfamily='cmr10', fontsize=35)
for s in ax.spines.values():
    s.set_linewidth(1.5)

# legend drawn by hand
ax.plot([0.0525], [0.8986], 'o', color='black', ms=8, transform=ax.transAxes)
ax.plot([0.0525], [0.832], 's', mfc='white', mec='black', ms=10, mew=1.3,
        transform=ax.transAxes)
ax.text(0.0822, 0.829, 'data\nsimulations', fontfamily='cmr10', fontsize=40,
        va='baseline', linespacing=0.99, transform=ax.transAxes)

fig.text(0.027, 0.561, r'Log  V$_{\rm rot}$  [km  s$^{-1}$]', fontfamily='cmr10',
         fontsize=31, rotation=90, ha='center', va='center')
fig.text(0.559, 0.047, r'$\mathit{M_I}$ - 5log(h)', fontfamily=xfont,
         fontweight='bold', fontstyle='italic', fontsize=35, ha='center',
         va='baseline')

fig.savefig('out.png', dpi=100)
